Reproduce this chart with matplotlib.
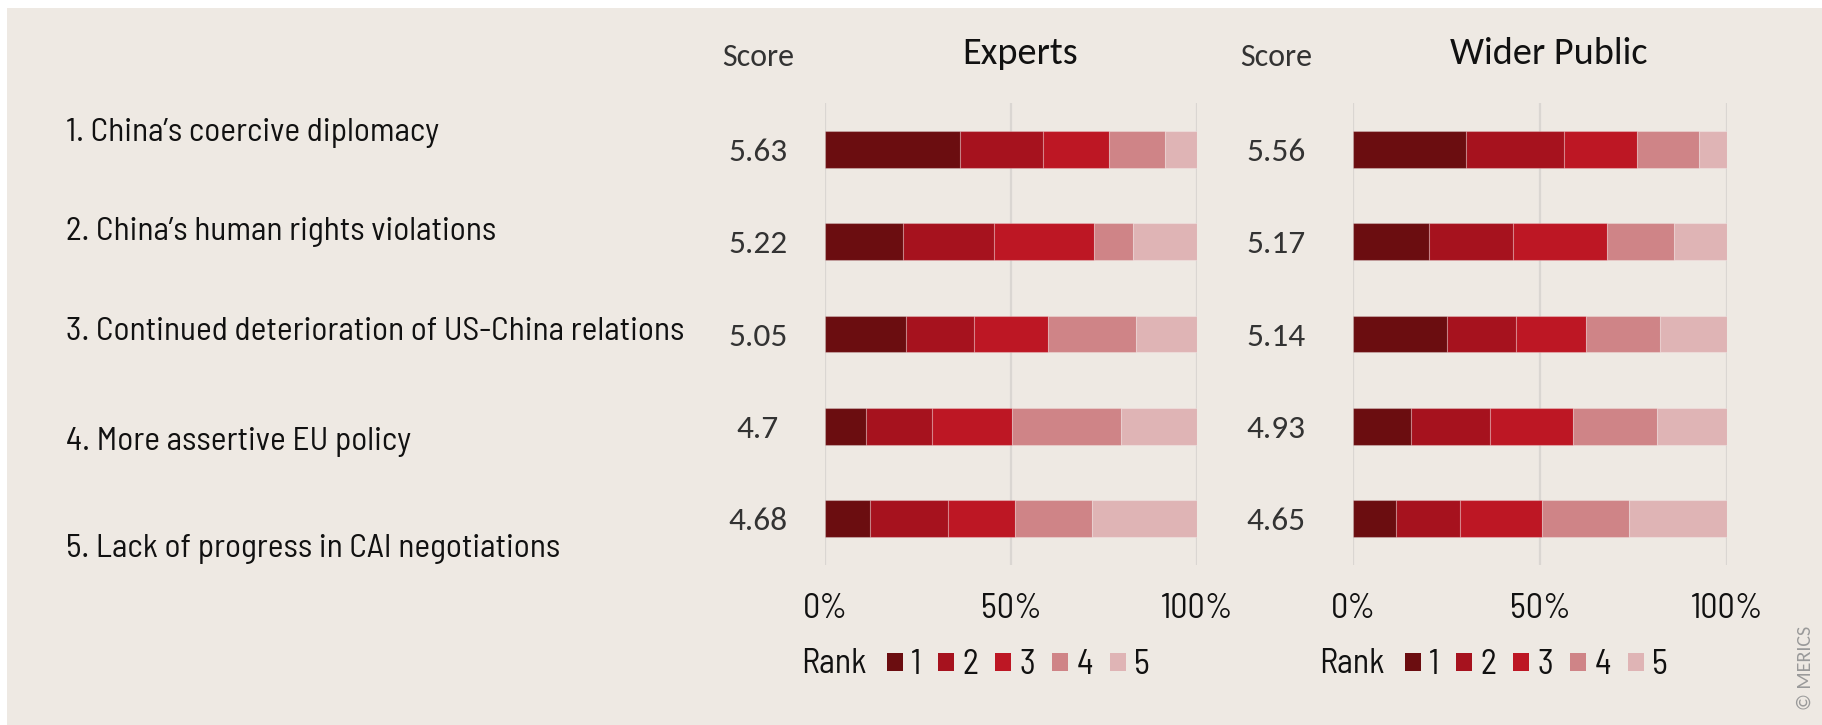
import matplotlib
matplotlib.use("Agg")
import matplotlib.pyplot as plt
from matplotlib.patches import Patch, Rectangle
from matplotlib import transforms

# --- data (shares per rank in %) ---
issues = [
    "1. China’s coercive diplomacy",
    "2. China’s human rights violations",
    "3. Continued deterioration of US-China relations",
    "4. More assertive EU policy",
    "5. Lack of progress in CAI negotiations",
]
ranks = ["1", "2", "3", "4", "5"]

experts_r1 = [36.2, 21.1, 21.8, 11.1, 12.2]
experts_r2 = [22.5, 24.4, 18.3, 17.7, 20.9]
experts_r3 = [17.6, 26.9, 19.8, 21.4, 17.9]
experts_r4 = [15.1, 10.4, 23.6, 29.5, 20.9]
experts_r5 = [8.6, 17.3, 16.5, 20.3, 28.0]
experts_score = [5.63, 5.22, 5.05, 4.7, 4.68]

public_r1 = [30.3, 20.4, 25.0, 15.6, 11.6]
public_r2 = [26.2, 22.4, 18.7, 21.1, 17.1]
public_r3 = [19.4, 25.0, 18.6, 22.1, 21.9]
public_r4 = [16.5, 18.1, 19.9, 22.4, 23.3]
public_r5 = [7.5, 14.1, 17.8, 18.7, 26.1]
public_score = [5.56, 5.17, 5.14, 4.93, 4.65]

colors = ["#6B0D10", "#A6121E", "#BD1724", "#CF8487", "#DFB4B5"]
bg = "#EEE9E3"

cond = ["Barlow Semi Condensed", "Roboto Condensed", "DejaVu Sans"]
human = ["Carlito", "Lato", "DejaVu Sans"]

W, H = 1822, 725
fx = lambda x: x / W
fy = lambda y: 1 - y / H

fig = plt.figure(figsize=(W / 100, H / 100), dpi=100, facecolor="white")
fig.patches.append(Rectangle((fx(7), 0), 1, fy(8), transform=fig.transFigure,
                             facecolor=bg, edgecolor="none", zorder=-10))

panels = [
    ("Experts", [experts_r1, experts_r2, experts_r3, experts_r4, experts_r5],
     experts_score, 825, 1197, 758, 1020, 801),
    ("Wider Public", [public_r1, public_r2, public_r3, public_r4, public_r5],
     public_score, 1353, 1727, 1276, 1549, 1319),
]

for title, shares, scores, x0, x1, sx, tx, lx in panels:
    ax = fig.add_axes([fx(x0), fy(565), fx(x1) - fx(x0), (565 - 103) / H])
    ax.set_facecolor("none")
    ypos = list(range(len(issues)))
    left = [0] * len(issues)
    for vals, c in zip(shares, colors):
        ax.barh(ypos, vals, left=left, height=0.4, color=c,
                edgecolor=(1, 1, 1, 0.25), linewidth=0.8, zorder=3)
        left = [l + v for l, v in zip(left, vals)]
    ax.set_xlim(0, 100)
    ax.set_ylim(4.5, -0.5)
    ax.set_xticks([0, 50, 100])
    ax.set_xticklabels(["0%", "50%", "100%"], family=cond, fontsize=24.5, color="#111111")
    ax.tick_params(axis="x", length=0, pad=20)
    ax.set_yticks([])
    ax.grid(axis="x", color="#DAD6D2", linewidth=1.6, zorder=0)
    ax.set_axisbelow(True)
    for s in ax.spines.values():
        s.set_visible(False)

    tr = transforms.blended_transform_factory(fig.transFigure, ax.transData)
    for y, sc in zip(ypos, scores):
        ax.text(fx(sx), y, f"{sc:g}", transform=tr, ha="center", va="center_baseline",
                family=human, fontsize=24, color="#333333")

    fig.text(fx(sx), fy(57), "Score", ha="center", va="center",
             family=human, fontsize=23, color="#333333")
    fig.text(fx(tx), fy(54), title, ha="center", va="center",
             family=human, fontsize=27.5, color="#111111")

    fig.text(fx(lx), fy(664), "Rank", ha="left", va="center",
             family=cond, fontsize=24.5, color="#111111")
    handles = [Patch(facecolor=c, edgecolor="none") for c in colors]
    fig.legend(handles, ranks, loc="center left",
               bbox_to_anchor=(fx(lx + 86), fy(665)), ncol=5, frameon=False,
               prop={"family": cond, "size": 24.5}, handlelength=0.47,
               handleheight=0.47, handletextpad=0.24, columnspacing=0.5,
               borderpad=0, borderaxespad=0, labelcolor="#111111")

label_y = [133, 232, 332, 442, 549]
for txt, y in zip(issues, label_y):
    fig.text(fx(66), fy(y), txt, ha="left", va="center",
             family=cond, fontsize=24, color="#111111")

fig.text(fx(1805), fy(668), "© MERICS", rotation=90, ha="center", va="center",
         family=human, fontsize=14.5, color="#9A9A9A")

fig.savefig("out.png", dpi=100, facecolor=fig.get_facecolor())
